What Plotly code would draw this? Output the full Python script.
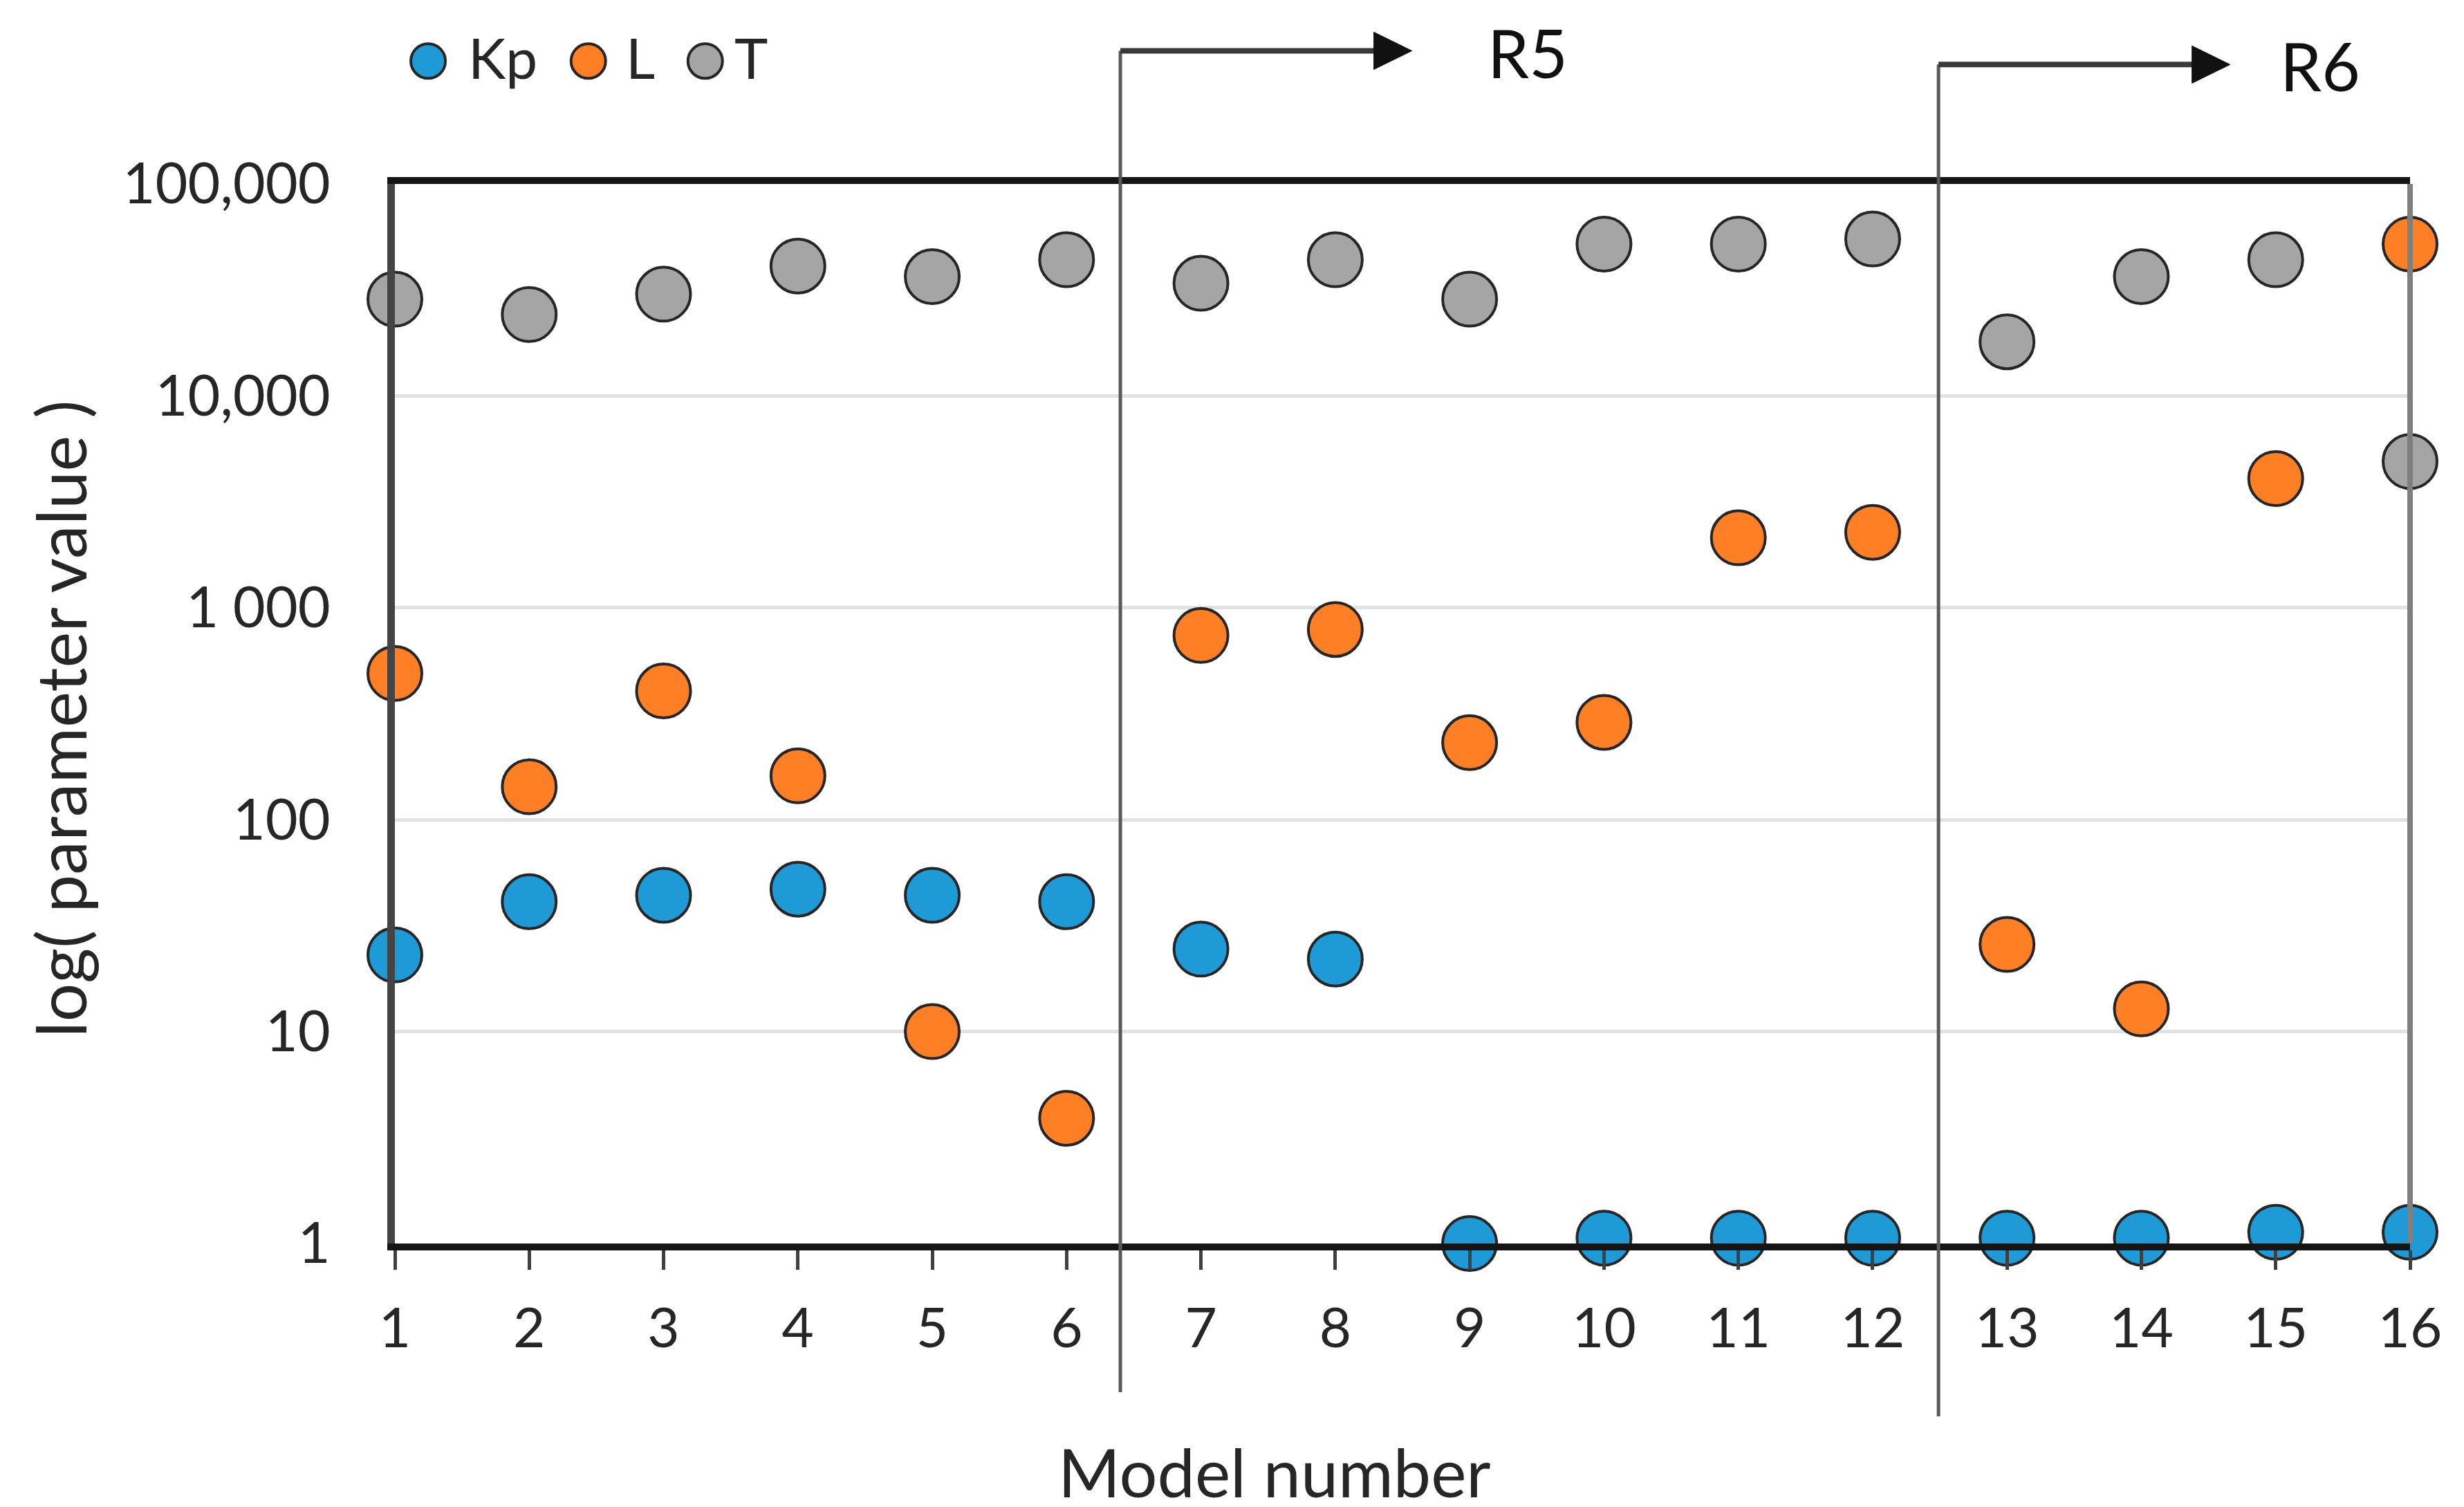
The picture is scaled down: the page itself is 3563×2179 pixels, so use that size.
import plotly.graph_objects as go

# ---------------- data ----------------
models = list(range(1, 17))
kp_values = [23, 41, 44, 47, 44, 41, 24.5, 22, 1.0, 1.06, 1.06, 1.06, 1.06, 1.06, 1.13, 1.13]
l_values = [490, 143, 405, 161, 10, 3.9, 740, 790, 231, 288, 2140, 2270, 25.8, 12.8, 4070, 52000]
t_values = [28600, 24200, 30200, 41000, 36500, 43900, 34000, 43900, 28600, 52000, 52000, 55000, 18000, 36500, 43900, 4900]

series_names = ["Kp", "L", "T"]
series_values = [kp_values, l_values, t_values]
series_colors = ["#1E9BD7", "#FE7F24", "#A5A5A5"]

y_tick_vals = [1, 10, 100, 1000, 10000, 100000]
y_tick_text = ["1", "10", "100", "1 000", "10,000", "100,000"]

region_labels = ["R5", "R6"]
region_start = [6.40, 12.49]      # x position of the vertical divider (model units)
region_tip = [8.57, 14.66]        # arrow tip (model units)
region_text_x = [9.43, 15.33]
region_arrow_y = [1.1257, 1.1127]  # paper
region_bottom_y = [-0.1403, -0.1632]
region_text_top = [1.1625, 1.1500]  # paper, top of text box

FONT = "Lato, 'Open Sans', sans-serif"
TXT = "#262626"
X_MIN, X_MAX = 1, 16


def px(x):
    return (x - X_MIN) / (X_MAX - X_MIN)


fig = go.Figure()
for name, vals, col in zip(series_names, series_values, series_colors):
    fig.add_trace(go.Scatter(
        x=models, y=vals, mode="markers", name=name,
        marker=dict(size=78, color=col, line=dict(color="#262626", width=4)),
        cliponaxis=False, showlegend=False,
    ))

shapes = []
annotations = []

# right border of plot box
shapes.append(dict(type="line", xref="paper", yref="paper", x0=1, x1=1, y0=0, y1=1,
                   line=dict(color="#7f7f7f", width=8), layer="above"))

# region dividers with arrows
for lab, xs, xt, xtx, ya, yb, yt in zip(region_labels, region_start, region_tip, region_text_x,
                                          region_arrow_y, region_bottom_y, region_text_top):
    shapes.append(dict(type="line", xref="paper", yref="paper", x0=px(xs), x1=px(xs), y0=yb, y1=ya,
                       line=dict(color="#595959", width=5), layer="above"))
    shapes.append(dict(type="line", xref="paper", yref="paper", x0=px(xs), x1=px(xt) - 0.012, y0=ya, y1=ya,
                       line=dict(color="#3a3a3a", width=8), layer="above"))
    shapes.append(dict(type="path", xref="paper", yref="paper", xsizemode="pixel", ysizemode="pixel",
                       xanchor=px(xt), yanchor=ya, path="M 0,0 L -55,27 L -55,-27 Z",
                       fillcolor="#111111", line=dict(color="#111111", width=1), layer="above"))
    annotations.append(dict(text=lab, xref="paper", yref="paper", x=px(xtx), y=yt, showarrow=False,
                            xanchor="center", yanchor="top", borderpad=0,
                            font=dict(family=FONT, size=96, color="#111111")))

# custom legend (large markers like the reference)
legend_marker_x = [0.0165, 0.0960, 0.1540]
legend_text_x = [0.0357, 0.1139, 0.1678]
legend_y = 1.1160
for name, col, mx, tx in zip(series_names, series_colors, legend_marker_x, legend_text_x):
    shapes.append(dict(type="circle", xref="paper", yref="paper", xsizemode="pixel", ysizemode="pixel",
                       xanchor=mx, yanchor=legend_y, x0=-25, x1=25, y0=-25, y1=25,
                       fillcolor=col, line=dict(color="#262626", width=4)))
    annotations.append(dict(text=name, xref="paper", yref="paper", x=tx, y=legend_y + 0.004, showarrow=False,
                            xanchor="left", yanchor="middle", font=dict(family=FONT, size=82, color=TXT)))

# axis titles
annotations.append(dict(text="Model number", xref="paper", yref="paper", x=0.4365, y=-0.2154, showarrow=False,
                        xanchor="center", yanchor="middle", font=dict(family=FONT, size=97, color=TXT)))
annotations.append(dict(text="log( parameter value )", xref="paper", yref="paper", x=-0.166, y=0.4954,
                        showarrow=False, textangle=-90, xanchor="center", yanchor="middle",
                        font=dict(family=FONT, size=98, color=TXT)))

fig.update_layout(
    width=3563, height=2179,
    margin=dict(l=563, r=86, t=258, b=389),
    paper_bgcolor="white", plot_bgcolor="white",
    font=dict(family=FONT, size=80, color=TXT),
    shapes=shapes, annotations=annotations,
    showlegend=False,
)
fig.update_xaxes(
    range=[X_MIN, X_MAX], tickmode="array", tickvals=models, ticktext=[str(m) for m in models],
    showgrid=False, zeroline=False,
    showline=True, linecolor="#151515", linewidth=10, mirror=True,
    ticks="outside", ticklen=28, tickwidth=5, tickcolor="#404040",
    ticklabelstandoff=16, tickfont=dict(family=FONT, size=80, color=TXT),
)
fig.update_yaxes(
    type="log", range=[0, 5], tickmode="array", tickvals=y_tick_vals, ticktext=y_tick_text,
    showgrid=True, gridcolor="#e2e2e2", gridwidth=5, zeroline=False,
    showline=True, linecolor="#444444", linewidth=11,
    ticks="", ticklabelstandoff=66, tickfont=dict(family=FONT, size=81, color=TXT),
)

fig.write_html("out.html")
